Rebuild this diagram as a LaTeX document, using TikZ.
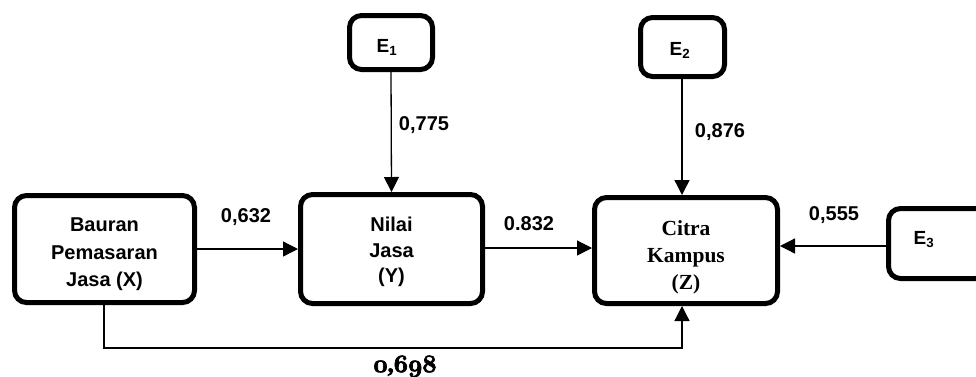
\documentclass[tikz,border=0pt]{standalone}
\usepackage{fontspec}
\setmainfont{Liberation Sans}
\newfontfamily\serifbf{Liberation Serif}
\usetikzlibrary{arrows.meta}
\newcommand{\osn}[1]{{\fontencoding{OML}\fontfamily{cmm}\fontseries{b}\fontshape{it}\selectfont #1}}
\newcommand{\heavy}[1]{\special{pdf:literal direct 2 Tr 0.7 w}#1\special{pdf:literal direct 0 Tr}}
\tikzset{
  boxnode/.style={draw, line width=5pt, rounded corners=12pt, inner sep=0pt},
  txt/.style={inner sep=0pt, align=center, font=\bfseries\fontsize{20}{27.5}\selectfont},
  etxt/.style={inner sep=0pt, font=\bfseries\fontsize{19}{20}\selectfont},
  num/.style={inner sep=0pt, font=\bfseries\fontsize{20}{22}\selectfont},
  arr/.style={line width=1.3pt, -{Triangle[length=15pt,width=15pt]}}
}
\begin{document}
\begin{tikzpicture}[x=1pt,y=-1pt]
\useasboundingbox (0,0) rectangle (976,376);
\clip (0,0) rectangle (976,376);
% boxes
\node[boxnode, minimum width=180pt, minimum height=107pt] (X) at (104.5,249) {};
\node[boxnode, minimum width=182pt, minimum height=109pt] (Y) at (391.5,249) {};
\node[boxnode, minimum width=183pt, minimum height=106pt] (Z) at (686,250.5) {};
\node[boxnode, minimum width=83pt, minimum height=54pt] (E1) at (391,42.5) {};
\node[boxnode, minimum width=84pt, minimum height=59pt] (E2) at (682.5,47) {};
\node[boxnode, minimum width=99pt, minimum height=70pt] (E3) at (938,243.5) {};
% box texts
\node[txt] (tX) at (104.5,254.5) {Bauran\\Pemasaran\\Jasa (X)};
\node[txt, font=\bfseries\fontsize{20}{25.5}\selectfont] (tY) at (391.5,252) {Nilai\\Jasa\\(Y)};
\node[txt, font=\serifbf\bfseries\fontsize{21.5}{27}\selectfont] (tZ) at (686,257) {Citra\\Kampus\\(Z)};
\node[etxt] (tE1) at (387,47.5) {E\textsubscript{1}};
\node[etxt] (tE2) at (680,50.5) {E\textsubscript{2}};
\node[etxt] (tE3) at (924,239.5) {E\textsubscript{3}};
% connectors
\draw[arr] (X.east) -- (Y.west);
\draw[arr] (Y.east |- 0,248) -- (Z.west |- 0,248);
\draw[arr] (E1.south) -- (Y.north);
\draw[arr] (E2.south -| 682,0) -- (Z.north -| 682,0);
\draw[arr] (E3.west |- 0,246) -- (Z.east |- 0,246);
\coordinate (cb) at (682,348);
\draw[arr] (X.south -| 104,0) |- (cb) -- (Z.south -| cb);
% labels
\node[num] (l1) at (246,217) {0,632};
\node[num] (l2) at (529,223.5) {0.832};
\node[num] (l3) at (424,125.5) {0,775};
\node[num] (l4) at (720,132) {0,876};
\node[num] (l5) at (834,215.5) {0,555};
\node[inner sep=0pt, anchor=base, font=\serifbf\bfseries\fontsize{24}{26}\selectfont] (l6) at (405,372) {\heavy{\osn{0},\osn{698}}};
\end{tikzpicture}
\end{document}
